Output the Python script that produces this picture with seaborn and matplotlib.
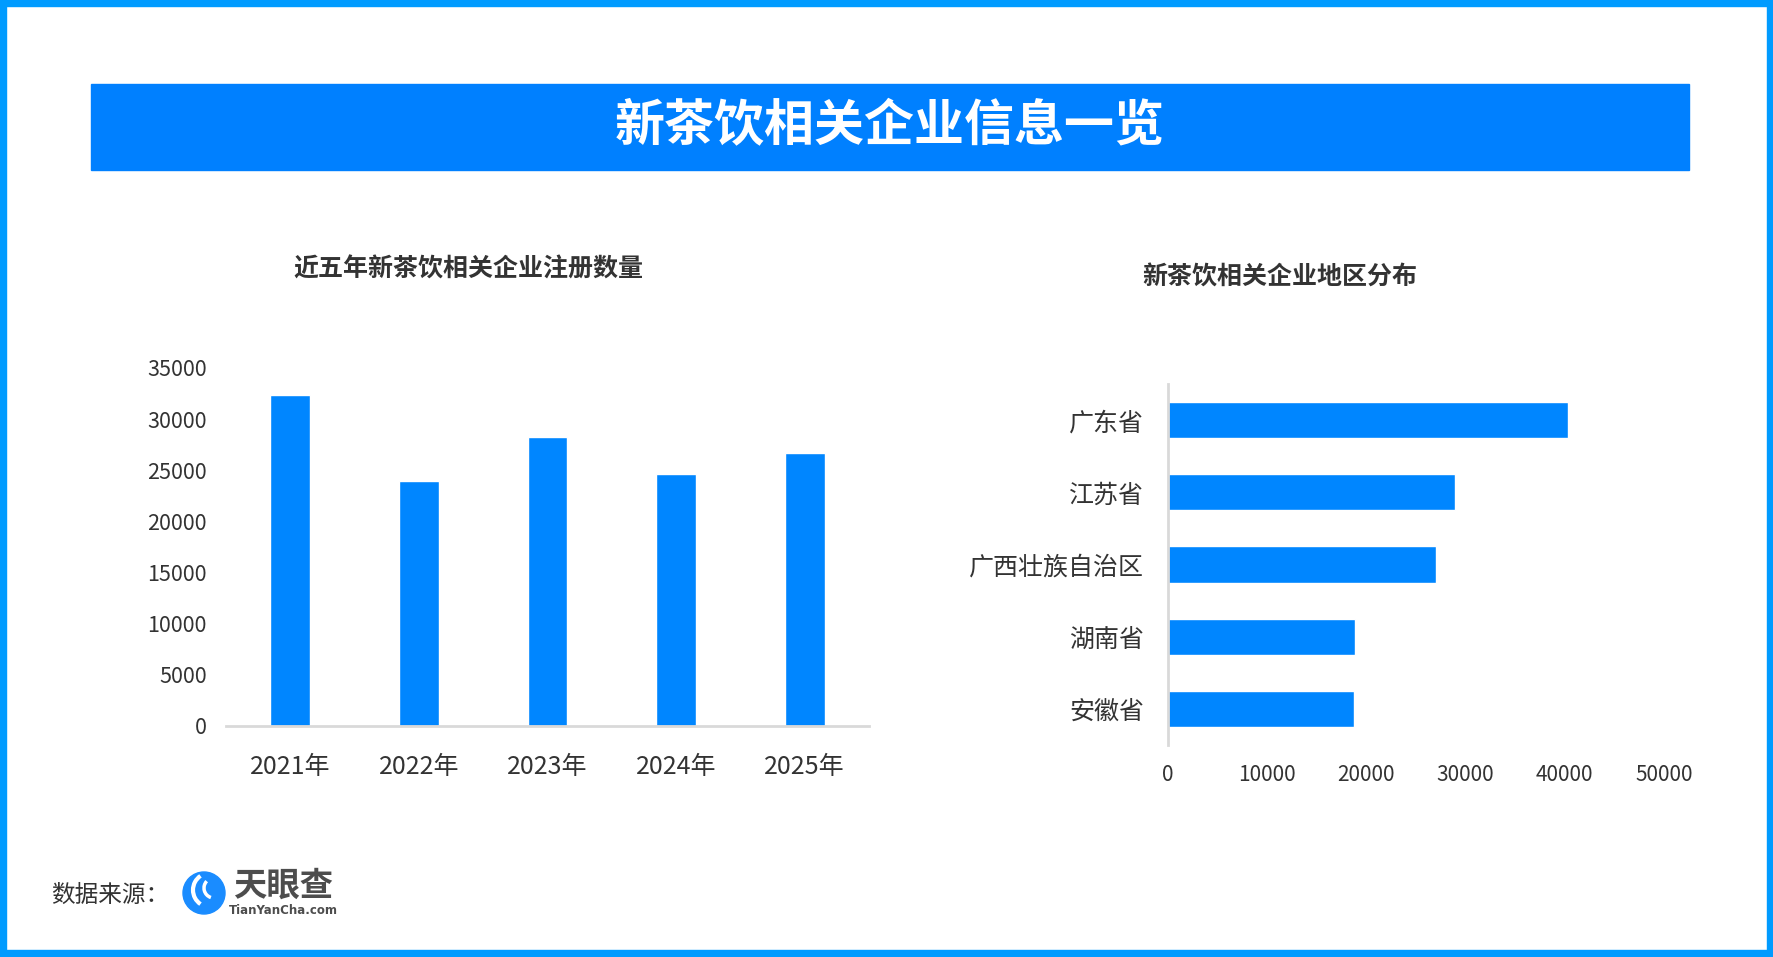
import matplotlib
matplotlib.use("Agg")
import matplotlib.pyplot as plt
import seaborn as sns
from matplotlib.patches import Rectangle, Ellipse, Arc

years = ["2021年", "2022年", "2023年", "2024年", "2025年"]
counts = [32400, 24000, 28300, 24600, 26700]

regions = ["广东省", "江苏省", "广西壮族自治区", "湖南省", "安徽省"]
region_counts = [40300, 28900, 27000, 18900, 18800]

sns.set_theme(style="white")
plt.rcParams['font.family'] = ['Noto Sans CJK SC', 'DejaVu Sans']

bar_color = "#0086FF"
text_color = "#333333"
spine_color = "#D9D9D9"

W, H = 1774, 957
fig = plt.figure(figsize=(W / 100, H / 100), dpi=100)
fig.patch.set_facecolor("white")

# outer frame
frame = "#009BFF"
for x0, y0, w, h in [(0, 0, W, 7), (0, H - 6, W, 6), (0, 0, 6, H), (W - 7, 0, 7, H)]:
    fig.patches.append(Rectangle((x0 / W, y0 / H), w / W, h / H, transform=fig.transFigure,
                                 color=frame, zorder=0))

# title banner
fig.patches.append(Rectangle((91 / W, 1 - 170 / H), (1689 - 91) / W, 86 / H,
                             transform=fig.transFigure, color="#0080FF", zorder=0))
fig.text(890 / W, 1 - 127 / H, "新茶饮相关企业信息一览", color="white", fontsize=36,
         fontweight="bold", ha="center", va="center")

# left chart: yearly registrations
ax1 = fig.add_axes([226 / W, 1 - 726 / H, (869 - 226) / W, (726 - 368) / H])
sns.barplot(x=years, y=counts, color=bar_color, width=0.31, saturation=1, ax=ax1)
ax1.set_ylim(0, 35000)
ax1.set_xlim(-0.5, 4.5)
ax1.set_yticks(range(0, 35001, 5000))
ax1.set_xlabel("")
ax1.set_ylabel("")
for s in ["top", "right", "left"]:
    ax1.spines[s].set_visible(False)
ax1.spines["bottom"].set_color(spine_color)
ax1.spines["bottom"].set_linewidth(2)
ax1.tick_params(axis="y", length=0, pad=14, labelsize=15.5, labelcolor=text_color)
ax1.tick_params(axis="x", length=0, pad=20, labelsize=18, labelcolor=text_color)
fig.text(468 / W, 1 - 270 / H, "近五年新茶饮相关企业注册数量", color=text_color,
         fontsize=18, fontweight="bold", ha="center", va="center")

# right chart: regional distribution
ax2 = fig.add_axes([1168 / W, 1 - 745 / H, (1664 - 1168) / W, (745 - 384) / H])
sns.barplot(x=region_counts, y=regions, orient="h", color=bar_color, width=0.5,
            saturation=1, ax=ax2)
ax2.set_xlim(0, 50000)
ax2.set_ylim(4.5, -0.5)
ax2.set_xticks(range(0, 50001, 10000))
ax2.set_xlabel("")
ax2.set_ylabel("")
for s in ["top", "right", "bottom"]:
    ax2.spines[s].set_visible(False)
ax2.spines["left"].set_color(spine_color)
ax2.spines["left"].set_linewidth(2)
ax2.tick_params(axis="x", length=0, pad=14, labelsize=15, labelcolor=text_color)
ax2.tick_params(axis="y", length=0, pad=17, labelsize=18, labelcolor=text_color)
fig.text(1280 / W, 1 - 278 / H, "新茶饮相关企业地区分布", color=text_color,
         fontsize=18, fontweight="bold", ha="center", va="center")

# footer source + logo
fig.text(51 / W, 1 - 895 / H, "数据来源：", color=text_color, fontsize=17,
         ha="left", va="center")
fig.patches.append(Ellipse((204 / W, 1 - 893 / H), 42 / W, 42 / H,
                           transform=fig.transFigure, color="#1A8CFF", zorder=2))
fig.patches.append(Arc((210 / W, 1 - 890 / H), 34 / W, 34 / H, theta1=110, theta2=250,
                       transform=fig.transFigure, color="white", lw=3, zorder=3))
fig.patches.append(Arc((214 / W, 1 - 888 / H), 20 / W, 20 / H, theta1=120, theta2=260,
                       transform=fig.transFigure, color="white", lw=2.5, zorder=3))
fig.text(283 / W, 1 - 886 / H, "天眼查", color="#4D4D4D", fontsize=24,
         fontweight="bold", ha="center", va="center")
fig.text(283 / W, 1 - 910 / H, "TianYanCha.com", color="#4D4D4D", fontsize=8.5,
         fontweight="bold", ha="center", va="center", family=["DejaVu Sans"])

fig.savefig("out.png", dpi=100, facecolor="white")
